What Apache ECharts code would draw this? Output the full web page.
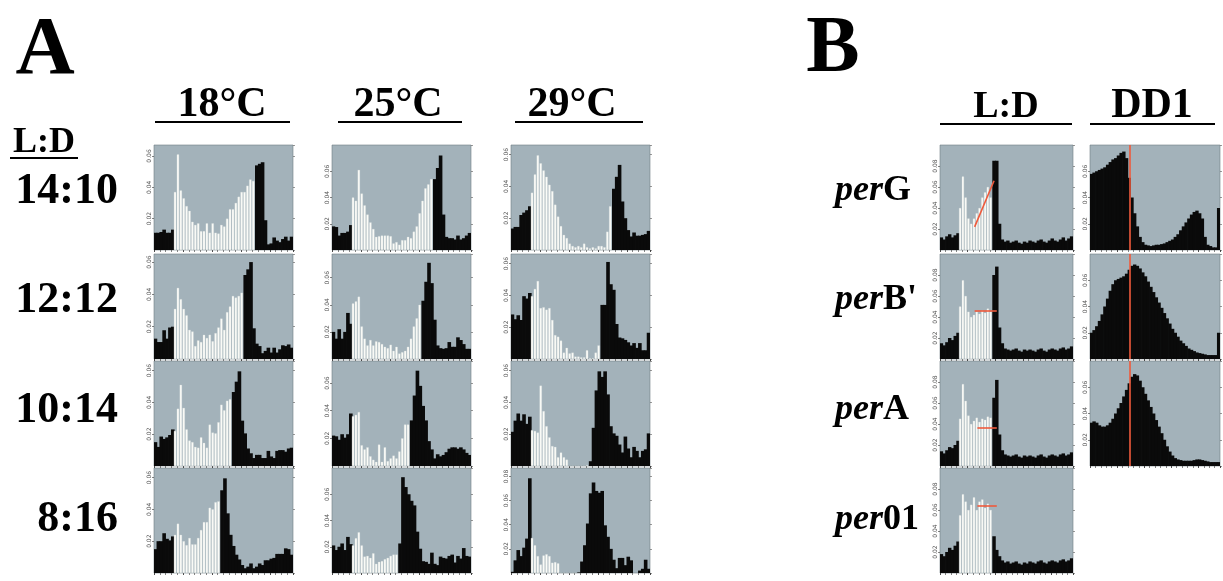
<!DOCTYPE html>
<html><head><meta charset="utf-8">
<script src="https://cdn.jsdelivr.net/npm/echarts@6/dist/echarts.min.js"></script>
<style>html,body{margin:0;padding:0;background:#fff}#c{width:1223px;height:581px}</style>
</head><body><div id="c"></div>
<script>
// ---------- labels ----------
const tempLabels = ['18°C', '25°C', '29°C'];
const photoLabels = ['14:10', '12:12', '10:14', '8:16'];
const lightHours = [14, 12, 10, 8];
const genoMain = ['per', 'per', 'per', 'per'];
const genoSuffix = ['G', "B'", 'A', '01'];
const yTickStep = 2; // percent -> labels 0.02, 0.04 ...

// ---------- Panel A: activity (% of daily total), 48 half-hour bins ----------
const a18_1410 = [1.1,1.1,1.15,1.3,1.1,1.1,1.3, 3.7,6.1,3.8,3.3,2.8,2.5,1.8,1.6,1.7,1.2,1.2,1.7,1.1,1.7,1.1,1.05,1.6,1.5,2.0,2.6,2.6,3.0,3.4,3.7,3.7,4.1,4.5,4.4, 5.4,5.5,5.6,1.9,0.36,0.42,0.8,0.6,0.5,0.7,0.85,0.6,0.85];
const a18_1212 = [1.26,1.05,1.05,1.78,1.26,1.95,2.0, 3.1,4.4,3.7,3.1,2.7,1.8,1.7,0.8,1.15,1.05,1.5,1.3,1.5,1.1,1.6,1.95,2.5,1.8,2.9,3.25,3.9,3.8,3.9,4.1, 5.2,5.55,6.0,1.9,0.95,0.8,0.36,0.5,0.7,0.4,0.7,0.4,0.6,0.85,0.8,0.9,0.7];
const a18_1014 = [1.5,1.2,1.85,1.7,1.8,1.95,2.3, 2.2,3.6,5.1,3.65,2.3,1.6,1.5,1.2,1.15,1.8,1.45,1.15,2.6,2.1,2.05,2.75,3.85,3.5,4.1,4.2, 4.65,5.3,5.95,2.85,2.05,1.1,0.8,0.5,0.7,0.7,0.5,0.5,0.95,0.6,0.5,0.95,1.0,1.0,0.9,1.1,1.15];
const a18_0816 = [1.5,2.0,2.0,2.5,2.15,2.05,2.3, 2.4,3.1,2.4,2.0,1.75,2.2,1.8,1.8,2.2,2.7,3.2,3.2,4.1,4.0,4.45,4.5, 5.2,5.95,3.75,2.4,1.7,1.15,0.85,0.5,0.3,0.4,0.6,0.3,0.4,0.6,0.5,0.8,0.8,0.9,0.95,1.2,1.2,1.2,1.55,1.5,1.15];
const a25_1410 = [1.8,1.75,1.1,1.3,1.3,1.4,1.9, 4.0,3.75,6.1,4.3,3.4,2.7,2.1,1.6,1.0,1.05,1.1,1.1,1.1,1.05,0.5,0.6,0.4,0.75,0.75,1.0,0.9,1.4,1.8,2.8,3.75,4.7,5.0,5.4, 5.4,6.25,7.2,2.7,1.0,0.9,0.9,0.8,1.1,0.8,0.9,1.1,1.3];
const a25_1212 = [2.0,1.5,2.2,1.5,2.0,3.4,2.6, 4.1,4.25,4.6,2.4,1.5,1.0,1.4,1.0,1.3,1.25,1.1,0.9,0.8,1.05,0.6,0.9,0.4,0.5,0.6,0.9,1.5,2.4,3.0,4.0, 4.3,5.7,7.1,5.6,2.9,1.0,0.8,0.75,0.8,1.25,0.9,0.9,1.6,1.4,1.1,0.75,0.75];
const a25_1014 = [2.2,2.15,1.9,2.3,2.05,2.3,3.8, 3.6,3.7,3.9,1.5,1.2,1.35,0.7,0.45,0.3,1.55,0.3,1.35,0.35,0.55,0.75,0.55,1.05,2.0,3.0,3.0, 3.3,5.1,6.9,5.8,4.35,3.3,1.8,1.2,0.55,0.85,0.7,0.8,1.0,1.25,1.35,1.35,1.25,1.35,1.2,0.95,0.8];
const a25_0816 = [2.1,1.75,2.0,2.25,1.75,2.75,2.2, 2.1,2.65,3.1,2.1,1.25,1.3,1.15,1.5,0.7,0.85,0.9,1.05,1.15,1.3,1.4,1.4, 2.25,7.3,6.55,6.0,5.5,5.15,3.15,1.85,0.9,0.85,0.7,1.55,0.7,0.6,1.25,1.15,1.1,1.3,1.4,0.8,1.3,1.1,1.9,1.3,1.25];
const a29_1410 = [1.35,1.45,1.45,2.2,2.35,2.5,2.75, 3.6,4.75,5.95,5.45,5.0,4.6,4.1,3.7,2.85,2.1,1.5,0.95,0.75,0.4,0.25,0.17,0.25,0.17,0.4,0.17,0.1,0.17,0.1,0.25,0.25,0.17,1.15,2.75, 3.85,4.6,5.35,3.05,2.0,1.25,0.85,1.1,0.9,0.9,0.95,1.0,1.2];
const a29_1212 = [2.8,2.5,2.75,2.45,3.95,3.8,4.15, 3.95,4.4,4.9,3.2,3.25,3.1,3.2,2.45,1.5,1.4,1.15,0.4,0.7,0.35,0.4,0.15,0.15,0.1,0.1,0.55,0.05,0.05,0.4,0.85, 3.4,3.4,6.1,4.7,4.35,2.2,1.35,1.3,1.2,1.05,0.85,1.0,0.7,1.0,0.55,0.55,1.65];
const a29_1014 = [2.15,2.85,3.3,2.85,3.25,2.65,3.1, 2.25,2.2,2.1,5.05,3.45,2.5,1.8,1.25,1.2,0.55,0.85,0.55,0.4,0,0,0,0,0,0,0.05, 0.3,2.4,4.75,5.95,5.6,5.95,4.5,2.5,2.05,1.9,1.35,0.85,1.85,1.1,0.55,1.2,0.95,0.55,0.95,1.05,2.05];
const a29_0816 = [0.1,1.05,1.9,1.4,2.1,2.85,7.85, 2.9,2.3,1.4,0.7,1.45,1.55,1.4,0.85,0.9,0.8,0,0,0,0,0,0, 0.05,0.95,2.3,4.1,6.6,7.5,6.8,6.65,6.8,3.95,3.0,2.0,1.1,0.4,1.25,1.25,0.65,1.35,1.05,0,0,0.2,0.35,1.1,0.35];
const aYmax = [[6.7,6.5,6.6,6.6],[8.0,7.75,7.6,8.0],[6.6,6.6,6.6,8.7]];

// ---------- Panel B: L:D (12 light bins) ----------
const bLightOn = 7, bLightOff = 19;
const bLD_perG  = [1.2,1.0,1.3,1.5,1.2,1.4,1.6, 4.0,7.0,5.0,3.0,2.5,3.0,3.5,4.0,5.0,5.5,6.0,5.0, 8.5,8.5,2.5,1.0,0.8,0.9,0.7,0.8,0.9,0.7,0.6,0.8,0.7,0.9,0.8,0.7,0.9,1.0,0.8,0.7,0.9,1.1,0.9,0.8,1.0,1.2,0.9,1.1,1.3];
const bLD_perB  = [1.5,1.3,1.6,2.0,1.8,2.2,2.5, 5.0,7.5,6.0,4.5,4.0,4.2,4.5,4.3,4.6,4.4,4.8,4.5, 8.0,8.8,3.0,1.5,1.0,0.9,0.8,0.9,1.0,0.8,0.7,0.9,0.8,0.9,0.8,0.7,0.9,1.0,0.8,0.7,0.9,1.0,0.9,0.8,1.0,1.1,0.9,1.0,1.2];
const bLD_perA  = [1.4,1.2,1.5,1.8,1.7,2.0,2.4, 4.5,7.8,6.2,4.8,4.0,4.3,4.6,4.2,4.5,4.4,4.7,4.6, 6.5,8.2,3.0,1.5,1.1,1.0,0.9,1.0,1.1,0.9,0.8,1.0,0.9,1.0,0.9,0.8,1.0,1.1,0.9,0.8,1.0,1.1,1.0,0.9,1.1,1.2,1.0,1.1,1.3];
const bLD_per01 = [1.8,1.6,2.0,2.4,2.2,2.6,3.0, 5.5,7.5,6.8,6.0,6.5,7.2,6.0,6.8,7.0,6.2,6.6,6.0, 3.5,2.2,1.6,1.2,1.0,1.1,0.9,1.0,1.1,0.9,0.8,1.0,0.9,1.1,1.0,0.9,1.1,1.2,1.0,0.9,1.1,1.2,1.1,1.0,1.2,1.3,1.1,1.2,1.4];
const bYmax = [10, 10, 10, 10];
// phase markers (bin, value)
const bPhaseG  = [[11.5, 2.2], [19, 6.6]];
const bPhaseB  = [[12, 4.6], [19.5, 4.6]];
const bPhaseA  = [[12.5, 3.6], [20, 3.6]];
const bPhase01 = [[12.5, 6.4], [20, 6.4]];

// ---------- Panel B: DD1 ----------
const dd_perG = [5.8,5.9,6.0,6.1,6.2,6.3,6.5,6.7,6.9,7.0,7.2,7.4,7.5,7.0,5.5,4.0,2.8,1.8,1.0,0.6,0.4,0.35,0.3,0.35,0.4,0.4,0.45,0.5,0.6,0.7,0.8,1.0,1.2,1.5,1.8,2.1,2.4,2.7,2.9,3.0,2.8,2.4,1.0,0.4,0.3,0.2,0.2,3.2];
const dd_perB = [2.0,2.2,2.5,2.9,3.4,4.0,4.6,5.2,5.7,6.0,6.1,6.2,6.3,6.5,6.8,7.1,7.2,7.1,6.9,6.6,6.3,5.9,5.5,5.1,4.7,4.3,3.9,3.5,3.1,2.7,2.3,2.0,1.7,1.4,1.2,1.0,0.8,0.7,0.6,0.5,0.45,0.4,0.35,0.3,0.3,0.3,0.3,2.0];
const dd_perA = [3.3,3.4,3.3,3.1,3.0,3.0,3.1,3.3,3.6,4.0,4.4,4.8,5.3,5.8,6.3,6.8,7.0,6.9,6.5,6.0,5.5,5.0,4.5,4.0,3.5,3.0,2.5,2.0,1.5,1.1,0.8,0.6,0.5,0.45,0.4,0.4,0.4,0.4,0.45,0.5,0.5,0.45,0.4,0.35,0.3,0.3,0.3,0.3];
const ddYmax = 8;
const ddPhaseBin = 14;

// ---------- build ----------
const BG = '#a3b2ba';
const grids = [], xAxes = [], yAxes = [], series = [];
const bins = Array.from({length: 48}, (_, i) => i);
const fmt = v => (v / 100).toFixed(2);

function addPanel(p) {
  const g = grids.length;
  grids.push({left: p.left, top: p.top, width: p.w, height: p.h, show: true,
    backgroundColor: BG, borderColor: '#6f7c83', borderWidth: 0.6});
  const xi = xAxes.length, yi = yAxes.length;
  xAxes.push({type: 'category', gridIndex: g, data: bins, position: 'bottom', boundaryGap: true,
    axisLine: {show: false}, axisLabel: {show: false},
    axisTick: {show: true, inside: false, length: 2, interval: 9, lineStyle: {color: '#333', width: 0.7}}});
  xAxes.push({type: 'category', gridIndex: g, data: bins, position: 'top', boundaryGap: true,
    axisLine: {show: false}, axisLabel: {show: false},
    axisTick: {show: true, inside: true, length: 2, interval: 1, lineStyle: {color: '#333', width: 0.6}}});
  yAxes.push({type: 'value', gridIndex: g, min: 0, max: p.ymax, interval: yTickStep, position: 'left',
    axisLine: {show: false}, splitLine: {show: false},
    axisTick: {show: true, length: 2, lineStyle: {color: '#333', width: 0.6}},
    axisLabel: {show: p.labels !== false, rotate: 90, fontSize: 6, color: '#555', margin: 2,
      fontFamily: 'DejaVu Sans', formatter: fmt, showMinLabel: false, showMaxLabel: false}});
  yAxes.push({type: 'value', gridIndex: g, min: 0, max: p.ymax, interval: yTickStep, position: 'right',
    axisLine: {show: false}, splitLine: {show: false}, axisLabel: {show: false},
    axisTick: {show: true, length: 2, lineStyle: {color: '#555', width: 0.6}}});
  const isLight = i => i >= p.lightFrom && i < p.lightTo;
  const light = {type: 'bar', xAxisIndex: xi, yAxisIndex: yi, barWidth: '78%', barGap: '-100%', z: 3,
    data: p.data.map((v, i) => isLight(i) ? v : '-'),
    itemStyle: {color: '#fcfcf8', borderColor: '#d4d9db', borderWidth: 0.3}, silent: true};
  const dark = {type: 'bar', xAxisIndex: xi, yAxisIndex: yi, barWidth: '125%', barGap: '-100%', z: 2,
    data: p.data.map((v, i) => isLight(i) ? '-' : v),
    itemStyle: {color: '#0a0a0a'}, silent: true};
  if (p.mark) {
    dark.markLine = {silent: true, symbol: 'none', animation: false, z: 5,
      lineStyle: {color: '#ef5a3c', width: 1.6, type: 'solid'}, label: {show: false}, data: p.mark};
  }
  series.push(light, dark);
}

const aCols = [154, 332, 511];
const rowTops = [145, 254, 361, 468];
const aW = 139, rowH = 105;
const aData = [[a18_1410, a18_1212, a18_1014, a18_0816],
               [a25_1410, a25_1212, a25_1014, a25_0816],
               [a29_1410, a29_1212, a29_1014, a29_0816]];
const lightOn = 7;
for (let c = 0; c < 3; c++) for (let r = 0; r < 4; r++) {
  addPanel({left: aCols[c], top: rowTops[r], w: aW, h: rowH, data: aData[c][r], ymax: aYmax[c][r],
    lightFrom: lightOn, lightTo: lightOn + lightHours[r] * 2});
}
const bLD = [bLD_perG, bLD_perB, bLD_perA, bLD_per01];
const bPh = [bPhaseG, bPhaseB, bPhaseA, bPhase01];
for (let r = 0; r < 4; r++) {
  addPanel({left: 940, top: rowTops[r], w: 133, h: rowH, data: bLD[r], ymax: bYmax[r],
    lightFrom: bLightOn, lightTo: bLightOff,
    mark: [[{coord: bPh[r][0]}, {coord: bPh[r][1]}]]});
}
const dd = [dd_perG, dd_perB, dd_perA];
for (let r = 0; r < 3; r++) {
  addPanel({left: 1090, top: rowTops[r], w: 130, h: rowH, data: dd[r], ymax: ddYmax,
    lightFrom: -1, lightTo: -1, labels: true, mark: [{xAxis: ddPhaseBin}]});
}

// ---------- text ----------
const SERIF = 'Liberation Serif';
function txt(x, y, s, size, align, extra) {
  return Object.assign({type: 'text', silent: true, style: {x, y, text: s, fill: '#000',
    font: 'bold ' + size + 'px "' + SERIF + '"', textAlign: align || 'center', textVerticalAlign: 'middle'}}, extra || {});
}
function uline(x1, x2, y) {
  return {type: 'line', silent: true, shape: {x1, y1: y, x2, y2: y}, style: {stroke: '#000', lineWidth: 2}};
}
const gfx = [];
gfx.push(txt(45, 52, 'A', 82));
gfx.push(txt(833, 50, 'B', 80));
const hdrX = [222, 398, 572];
const ulA = [[155, 290], [338, 462], [515, 643]];
tempLabels.forEach((t, i) => { gfx.push(txt(hdrX[i], 105, t, 42)); gfx.push(uline(ulA[i][0], ulA[i][1], 122)); });
gfx.push(txt(44, 143, 'L:D', 36)); gfx.push(uline(10, 78, 158));
const rowY = [192, 301, 411, 520];
photoLabels.forEach((t, i) => gfx.push(txt(118, rowY[i], t, 44, 'right')));
gfx.push(txt(1006, 107, 'L:D', 38)); gfx.push(uline(940, 1072, 124));
gfx.push(txt(1152, 106, 'DD1', 42)); gfx.push(uline(1090, 1215, 124));
const genoY = [191, 300, 410, 520];
genoSuffix.forEach((s, i) => {
  gfx.push({type: 'text', silent: true, style: {x: 835, y: genoY[i], text: '{i|' + genoMain[i] + '}{b|' + s + '}',
    textAlign: 'left', textVerticalAlign: 'middle', fill: '#000',
    rich: {i: {fontFamily: SERIF, fontSize: 36, fontWeight: 'bold', fontStyle: 'italic'},
           b: {fontFamily: SERIF, fontSize: 36, fontWeight: 'bold'}}}});
});

const chart = echarts.init(document.getElementById('c'), null, {renderer: 'canvas'});
chart.setOption({animation: false, grid: grids, xAxis: xAxes, yAxis: yAxes, series, graphic: {elements: gfx}});
</script></body></html>
